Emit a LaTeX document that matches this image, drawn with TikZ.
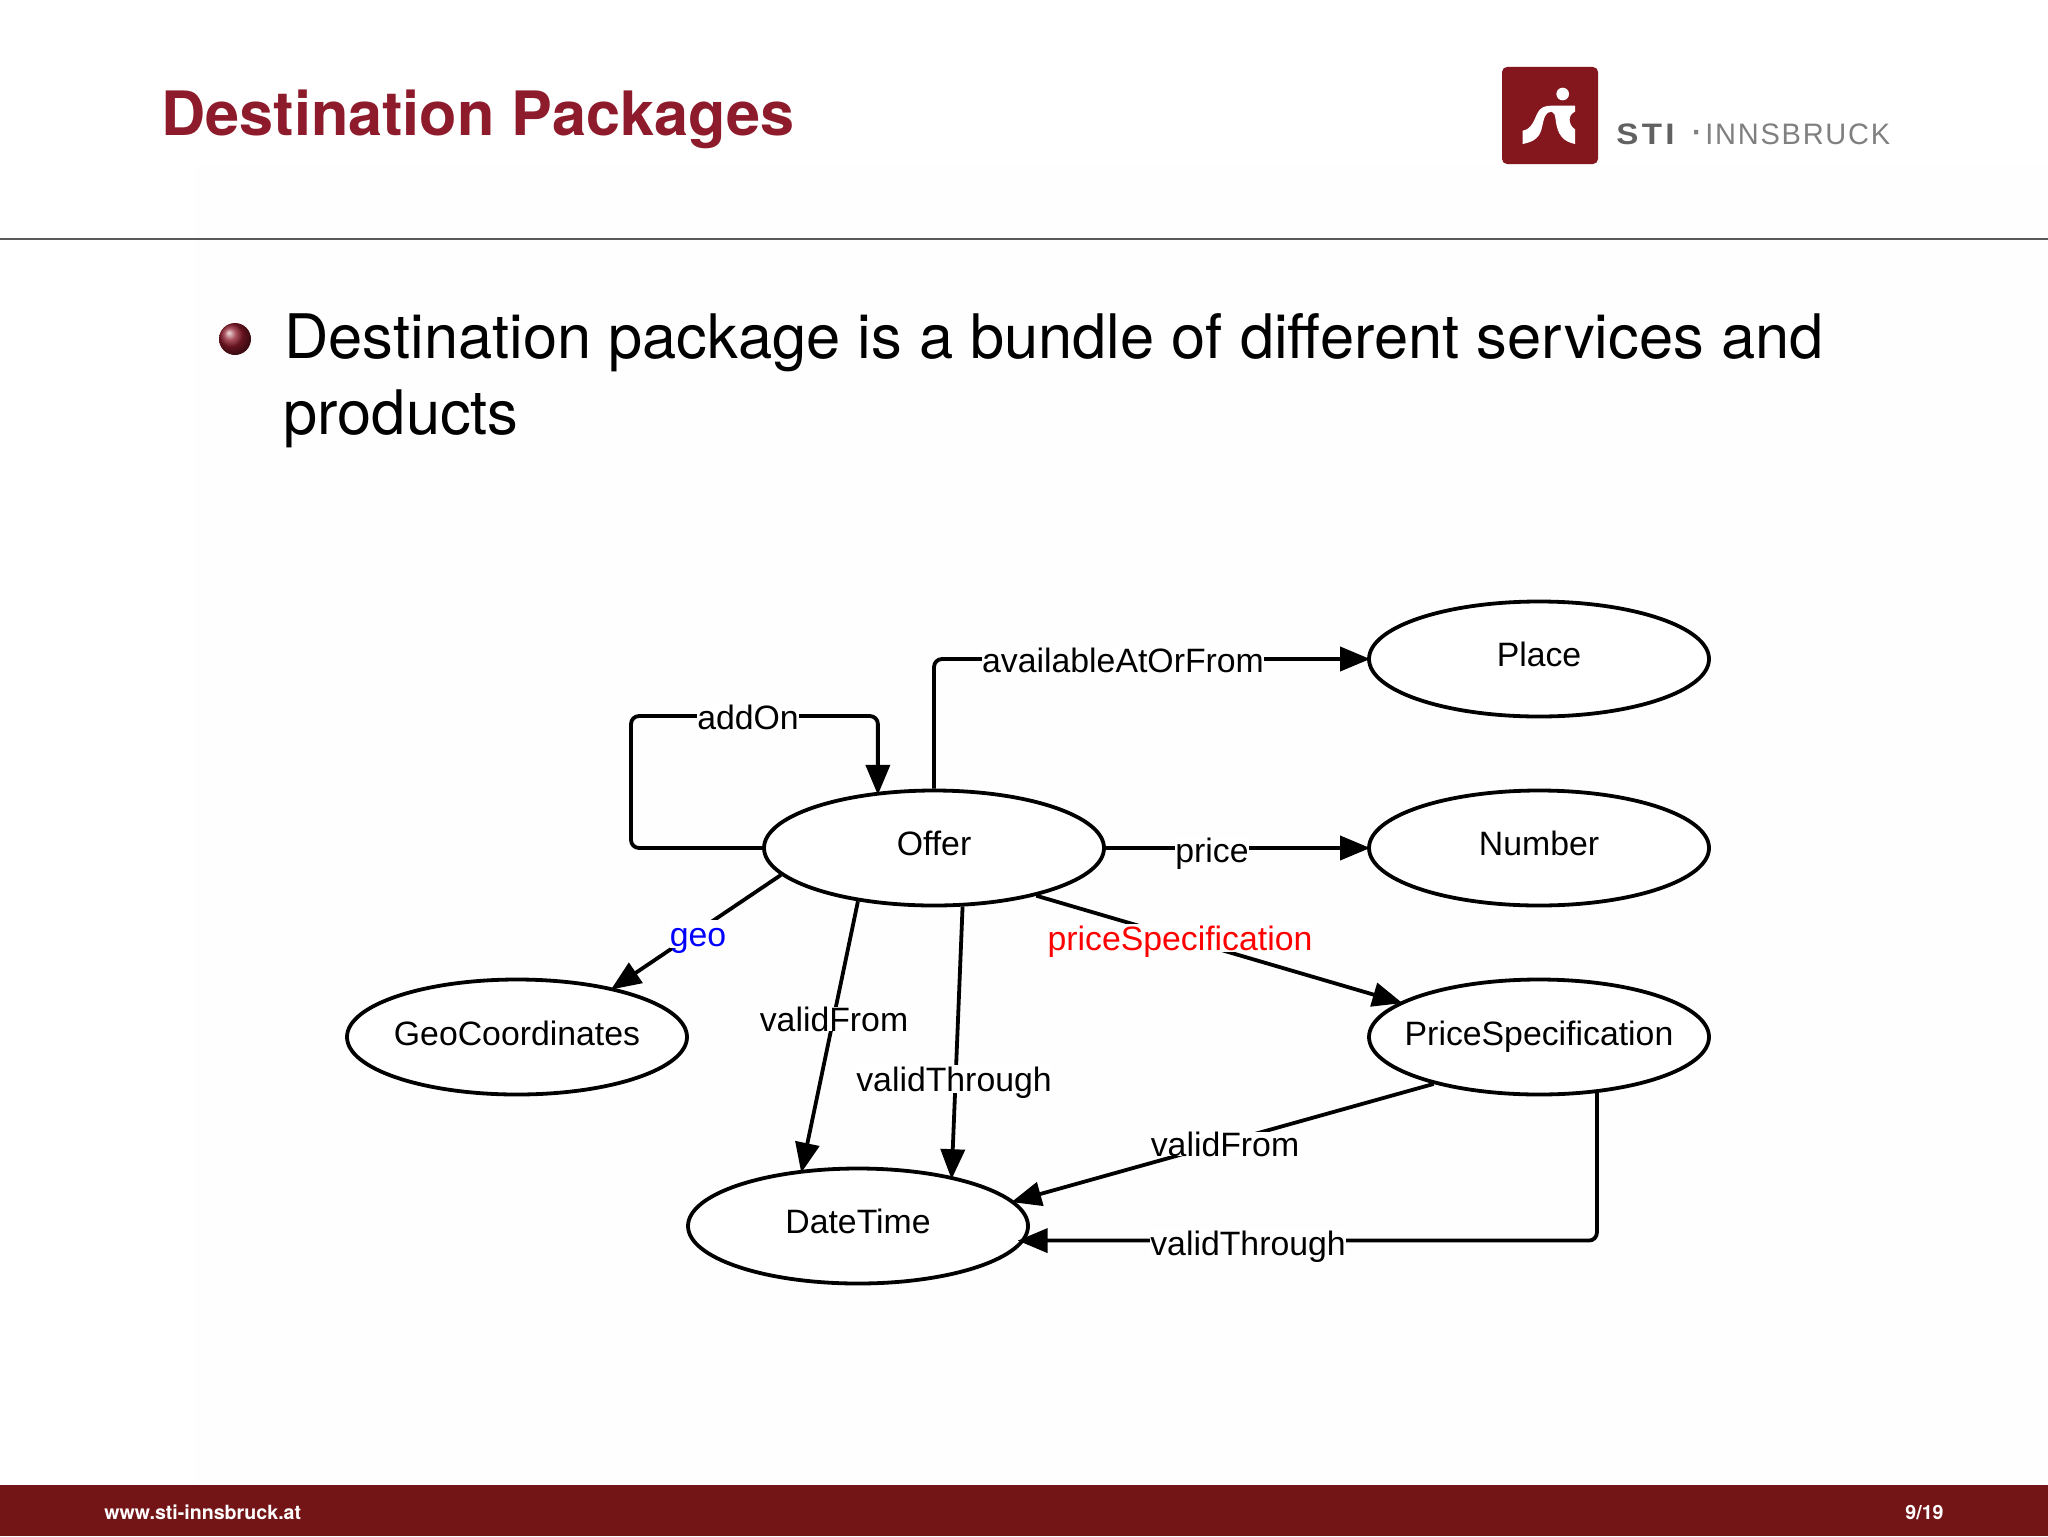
\documentclass[tikz,border=0pt]{standalone}
\usepackage{fontspec}
\setmainfont{Liberation Sans}
\newfontfamily\heros{TeX Gyre Heros}
\newfontfamily\logofont[LetterSpace=6]{Liberation Sans}
\newfontfamily\stifont[LetterSpace=10]{Liberation Sans}
\usetikzlibrary{arrows.meta,shapes.geometric}
\definecolor{barred}{HTML}{731517}
\definecolor{titlered}{HTML}{8E1B2B}
\definecolor{logored}{HTML}{84161E}
\definecolor{headline}{HTML}{5A5A5A}
\newcommand{\ctext}[2][4.5pt]{\makebox[0pt]{\raisebox{#1}{#2}}}
\tikzset{
  concept/.style={ellipse,draw=black,fill=white,line width=1.9pt,minimum width=170pt,minimum height=57.5pt,inner sep=0pt,font=\fontsize{16.9}{20}\selectfont},
  edge/.style={draw=black,line width=1.9pt,-{Triangle[length=15pt,width=12pt]},rounded corners=4pt,shorten >=-1.5pt},
  rel/.style={fill=white,inner sep=0pt,font=\fontsize{16.9}{20}\selectfont},
  shallow/.style={rel,text depth=1pt,text height=13pt},
  slidetext/.style={anchor=base west,inner sep=0pt,font=\heros\fontsize{30.7}{36}\selectfont},
}
\begin{document}
\begin{tikzpicture}[x=0.5pt,y=-0.5pt]
\useasboundingbox (0,0) rectangle (2048,1536);
\fill[white] (0,0) rectangle (2048,1536);
\fill[black!0.5] (195,165) rectangle (2048,1485);
% header
\node[anchor=base west,inner sep=0pt,text=titlered,font=\heros\bfseries\fontsize{30.6}{36}\selectfont] (title) at (161,135) {Destination Packages};
\draw[headline,line width=1.1pt] (0,239) -- (2048,239);
% logo
\fill[logored,rounded corners=2.5pt] (1502,67) rectangle (1598,164);
\begin{scope}[shift={(1460,40)},x=0.16667pt,y=-0.16667pt]
\fill[white] (308,162) circle (19);
\fill[white] (188,272) .. controls (215,268) and (222,240) .. (232,220)
  .. controls (240,202) and (255,197) .. (275,197) -- (345,197) -- (345,215)
  .. controls (322,225) and (325,255) .. (345,268) -- (345,312)
  .. controls (310,305) and (292,285) .. (287,240) .. controls (285,225) and (283,217) .. (275,215)
  .. controls (255,215) and (252,235) .. (246,262) .. controls (240,290) and (225,305) .. (188,312) -- cycle;
\end{scope}
\node[anchor=base west,inner sep=0pt,text=black!62,font=\stifont\bfseries\fontsize{14.8}{18}\selectfont] (sti) at (1616,144) {\scalebox{1.12}[1]{STI}};
\node[anchor=base west,inner sep=0pt,text=black!50,font=\logofont\fontsize{14.8}{18}\selectfont] (inn) at (1705,144) {\scalebox{0.98}[1]{INNSBRUCK}};
\node[inner sep=0pt,text=black!50,font=\logofont\bfseries\fontsize{14.8}{18}\selectfont] (dot) at (1697,136) {·};
% body
\shade[ball color=titlered] (235,339) circle (8pt);
\node[slidetext] (line1) at (284,358) {Destination package is a bundle of different services and};
\node[slidetext] (line2) at (283,434) {products};
% footer
\fill[barred] (0,1485) rectangle (2048,1536);
\node[anchor=base west,inner sep=0pt,text=white,font=\heros\bfseries\fontsize{9.8}{12}\selectfont] (url) at (104,1519) {www.sti-innsbruck.at};
\node[anchor=base east,inner sep=0pt,text=white,font=\heros\bfseries\fontsize{9.8}{12}\selectfont] (page) at (1944,1519) {9/19};
% concepts
\node[concept] (place) at (1539,659) {\ctext{Place}};
\node[concept] (offer) at (934,848) {\ctext{Offer}};
\node[concept] (number) at (1539,848) {\ctext{Number}};
\node[concept] (pspec) at (1539,1037) {\ctext[3.2pt]{PriceSpecification}};
\node[concept] (geoc) at (517,1037) {\ctext[4pt]{GeoCoordinates}};
\node[concept] (date) at (858,1226) {\ctext{DateTime}};
% corner coordinates
\coordinate (addA) at (631,848);
\coordinate (addB) at (631,716);
\coordinate (addC) at (offer.135 |- addB);
\coordinate (thrC) at (pspec.316.7 |- date.-5.4);
% connectors
\draw[edge] (offer.west) -- (addA) -- (addB) -- (addC) -- (offer.135);
\draw[edge] (offer.north) |- (place.west);
\draw[edge] (offer.east) -- (number.west);
\draw[edge] (offer.190.2) -- (geoc.27);
\draw[edge] (offer.335.2) -- (pspec.166.5);
\draw[edge] (offer.215.3) -- (date.135);
\draw[edge] (offer.296) -- (date.28.5);
\draw[edge] (pspec.204.2) -- (date.9.1);
\draw[edge,shorten >=-3.5pt] (pspec.316.7) -- (thrC) -- (date.-5.4);
% labels
\node[rel] (laddon) at (748,717) {addOn};
\node[rel] (lavail) at (1123,660) {availableAtOrFrom};
\node[rel] (lprice) at (1212,854) {price};
\node[shallow,text=blue] (lgeo) at (698,934) {geo};
\node[shallow,text=red] (lpspec) at (1180,938) {priceSpecification};
\node[rel] (lvf) at (834,1019) {validFrom};
\node[shallow] (lvt) at (954,1079) {validThrough};
\node[rel] (lvf2) at (1225,1144) {validFrom};
\node[shallow] (lvt2) at (1248,1243) {validThrough};
\end{tikzpicture}
\end{document}
